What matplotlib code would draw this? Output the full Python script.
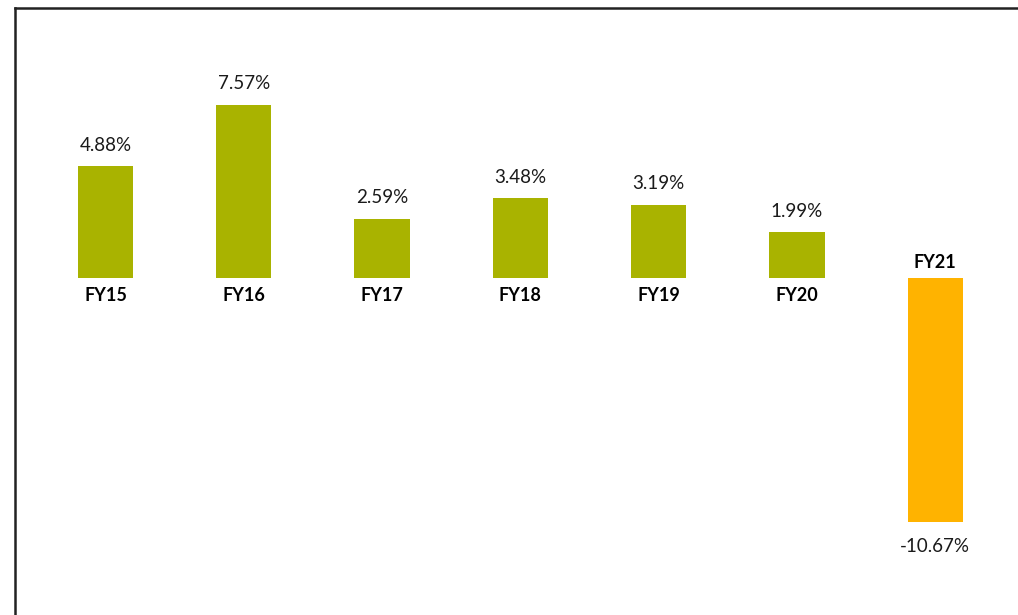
import matplotlib
matplotlib.use("Agg")
import matplotlib.pyplot as plt
from matplotlib.lines import Line2D

categories = ["FY15", "FY16", "FY17", "FY18", "FY19", "FY20", "FY21"]
values = [4.88, 7.57, 2.59, 3.48, 3.19, 1.99, -10.67]
labels = ["4.88%", "7.57%", "2.59%", "3.48%", "3.19%", "1.99%", "-10.67%"]

pos_color = "#A9B300"
neg_color = "#FFB300"
colors = [pos_color if v >= 0 else neg_color for v in values]

plt.rcParams['font.family'] = ['Lato', 'DejaVu Sans']

fig = plt.figure(figsize=(10.18, 6.15), dpi=100)
ax = fig.add_axes([0, 0, 1, 1])
ax.set_axis_off()

x = list(range(len(categories)))
bars = ax.bar(x, values, width=0.40, color=colors)

ax.set_xlim(-0.763, 6.598)
ax.set_ylim(-14.72, 12.14)

for xi, v, lab, cat in zip(x, values, labels, categories):
    if v >= 0:
        ax.annotate(lab, (xi, v), xytext=(0, 21), textcoords='offset pixels',
                    ha='center', va='center', fontsize=13.5, color='#1a1a1a')
        ax.annotate(cat, (xi, 0), xytext=(0, -18), textcoords='offset pixels',
                    ha='center', va='center', fontsize=13, fontweight='bold', color='#000000')
    else:
        ax.annotate(lab, (xi, v), xytext=(0, -24), textcoords='offset pixels',
                    ha='center', va='center', fontsize=13.5, color='#1a1a1a')
        ax.annotate(cat, (xi, 0), xytext=(0, 15), textcoords='offset pixels',
                    ha='center', va='center', fontsize=13, fontweight='bold', color='#000000')

# frame lines (left and top)
W, H = 1018, 615
fig.add_artist(Line2D([14.5 / W, 14.5 / W], [0, 1 - 8 / H], color='#222222', lw=1.8,
                      transform=fig.transFigure, solid_capstyle='projecting'))
fig.add_artist(Line2D([14.5 / W, 1], [1 - 8 / H, 1 - 8 / H], color='#222222', lw=1.8,
                      transform=fig.transFigure, solid_capstyle='projecting'))

fig.savefig("out.png", dpi=100, facecolor='white')
